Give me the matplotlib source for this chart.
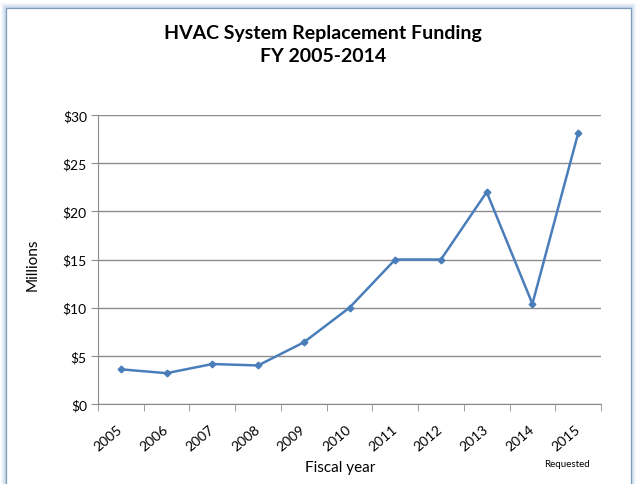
import matplotlib
matplotlib.use("Agg")
import matplotlib.pyplot as plt
from matplotlib.patches import Rectangle

years = ["2005", "2006", "2007", "2008", "2009", "2010", "2011", "2012", "2013", "2014", "2015"]
funding = [3.6, 3.2, 4.15, 4.0, 6.4, 10.0, 15.0, 15.0, 22.0, 10.4, 28.1]
yticks = [0, 5, 10, 15, 20, 25, 30]
ytick_labels = ["$0", "$5", "$10", "$15", "$20", "$25", "$30"]

plt.rcParams['font.family'] = ['Lato', 'DejaVu Sans']

fig = plt.figure(figsize=(6.39, 4.85), dpi=100)
W, H = 639, 485

# frame shadow + border
for d, a in [(5, 0.10), (4, 0.14), (3, 0.18), (2, 0.24), (1, 0.30)]:
    fig.patches.append(Rectangle(((6 - d) / W, 0), (625 + 2 * d) / W, (476 + d) / H,
                                 transform=fig.transFigure, facecolor='#a9c4e0',
                                 edgecolor='none', alpha=a, zorder=0))
fig.patches.append(Rectangle((6 / W, -0.01), 625 / W, (476 / H) + 0.01, transform=fig.transFigure,
                             facecolor='white', edgecolor='#7f9bb8', linewidth=0.9, zorder=1))

ax = fig.add_axes([98 / W, 1 - 405 / H, 503 / W, 289 / H])
ax.set_zorder(3)
ax.set_facecolor('none')
x = list(range(len(years)))
ax.plot(x, funding, color='#4A7EBB', linewidth=1.8, marker='D', markersize=3.4, zorder=3)

ax.set_xlim(-0.5, len(years) - 0.5)
ax.set_ylim(0, 30)
ax.set_yticks(yticks)
ax.set_yticklabels(ytick_labels, fontsize=10)
ax.yaxis.grid(True, color='#8c8c8c', linewidth=1)
ax.set_axisbelow(True)

ax.set_xticks(x)
ax.set_xticklabels(years, rotation=40, ha='right', va='center', rotation_mode='anchor', fontsize=10)
ax.tick_params(axis='x', length=0, pad=17)
ax.set_xticks([i - 0.5 for i in range(len(years) + 1)], minor=True)
ax.tick_params(axis='x', which='minor', length=5, color='#8c8c8c', direction='out')
ax.tick_params(axis='y', length=5, color='#8c8c8c', direction='out', pad=3)

for s in ['top', 'right']:
    ax.spines[s].set_visible(False)
ax.spines['left'].set_color('#8c8c8c')
ax.spines['bottom'].set_color('#8c8c8c')

fig.text(323 / W, 1 - 34 / H, "HVAC System Replacement Funding", ha='center', va='center',
         fontsize=14, fontweight='bold', zorder=5)
fig.text(323 / W, 1 - 57 / H, "FY 2005-2014", ha='center', va='center',
         fontsize=14, fontweight='bold', zorder=5)
fig.text(33 / W, 1 - 265 / H, "Millions", rotation=90, ha='center', va='center', fontsize=11, zorder=5)
fig.text(340 / W, 1 - 468 / H, "Fiscal year", ha='center', va='center', fontsize=11, zorder=5)
fig.text(567 / W, 1 - 465 / H, "Requested", ha='center', va='center', fontsize=7, zorder=5)

fig.savefig("out.png", dpi=100)
